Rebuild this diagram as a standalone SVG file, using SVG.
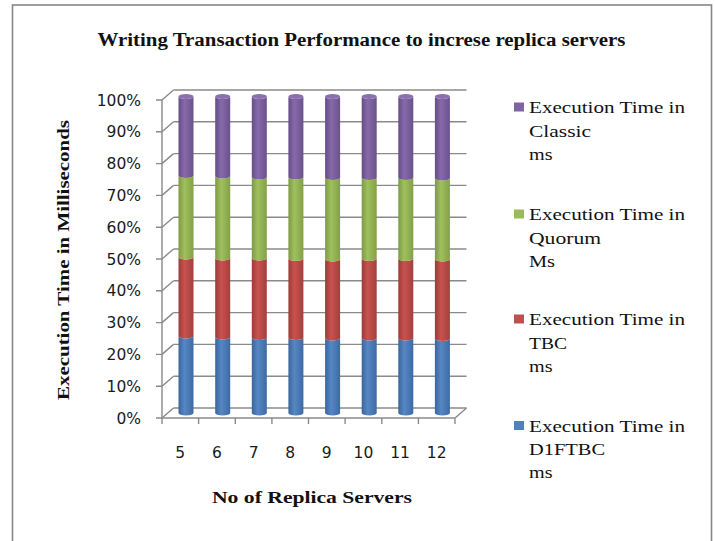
<svg xmlns="http://www.w3.org/2000/svg" width="715" height="541" viewBox="0 0 715 541">
<style>
.grid{stroke:#8a8a8a;stroke-width:1.4;fill:none}
.ylab{font-family:"DejaVu Sans",sans-serif;font-size:15.5px;fill:#1a1a1a;text-anchor:end}
.xlab{font-family:"DejaVu Sans",sans-serif;font-size:15.5px;fill:#1a1a1a;text-anchor:middle}
.ttl{font-family:"Liberation Serif",serif;font-weight:bold;fill:#111}
.leg{font-family:"Liberation Serif",serif;font-size:16px;fill:#111}
</style>
<defs>
<linearGradient id="gB" x1="0" y1="0" x2="1" y2="0"><stop offset="0" stop-color="#3a659c"/><stop offset="0.4" stop-color="#5687c4"/><stop offset="1" stop-color="#3d6aa3"/></linearGradient>
<linearGradient id="gR" x1="0" y1="0" x2="1" y2="0"><stop offset="0" stop-color="#9c3b38"/><stop offset="0.4" stop-color="#c8524f"/><stop offset="1" stop-color="#a2403d"/></linearGradient>
<linearGradient id="gG" x1="0" y1="0" x2="1" y2="0"><stop offset="0" stop-color="#7c9a43"/><stop offset="0.4" stop-color="#a0c05e"/><stop offset="1" stop-color="#82a047"/></linearGradient>
<linearGradient id="gP" x1="0" y1="0" x2="1" y2="0"><stop offset="0" stop-color="#654d85"/><stop offset="0.4" stop-color="#8769ab"/><stop offset="1" stop-color="#6a528b"/></linearGradient>
</defs>
<rect x="12.5" y="5" width="699" height="560" fill="#ffffff" stroke="#878787" stroke-width="1.6"/>
<text class="ttl" x="361.5" y="46" font-size="18" text-anchor="middle" textLength="528" lengthAdjust="spacingAndGlyphs">Writing Transaction Performance to increse replica servers</text>

<g id="axes">
<g class="grid">
<path d="M173.5,90H466.5M173.5,121.8H466.5M173.5,153.6H466.5M173.5,185.4H466.5M173.5,217.2H466.5M173.5,249H466.5M173.5,280.8H466.5M173.5,312.6H466.5M173.5,344.4H466.5M173.5,376.2H466.5M173.5,408H466.5"/>
<path d="M162,100L173.5,90M162,131.8L173.5,121.8M162,163.6L173.5,153.6M162,195.4L173.5,185.4M162,227.2L173.5,217.2M162,259L173.5,249M162,290.8L173.5,280.8M162,322.6L173.5,312.6M162,354.4L173.5,344.4M162,386.2L173.5,376.2M162,418L173.5,408"/>
<path d="M162,100V418M156,100H162M156,131.8H162M156,163.6H162M156,195.4H162M156,227.2H162M156,259H162M156,290.8H162M156,322.6H162M156,354.4H162M156,386.2H162M156,418H162"/>
<path d="M162,418H455L466.5,408M162,418V424M198.6,418V424M235.3,418V424M271.9,418V424M308.5,418V424M345.1,418V424M381.8,418V424M418.4,418V424M455,418V424"/>
</g>
<text class="ylab" x="141" y="105.5">100%</text>
<text class="ylab" x="141" y="137.3">90%</text>
<text class="ylab" x="141" y="169.1">80%</text>
<text class="ylab" x="141" y="200.9">70%</text>
<text class="ylab" x="141" y="232.7">60%</text>
<text class="ylab" x="141" y="264.5">50%</text>
<text class="ylab" x="141" y="296.3">40%</text>
<text class="ylab" x="141" y="328.1">30%</text>
<text class="ylab" x="141" y="359.9">20%</text>
<text class="ylab" x="141" y="391.7">10%</text>
<text class="ylab" x="141" y="423.5">0%</text>
<text class="xlab" x="180.3" y="458">5</text>
<text class="xlab" x="216.9" y="458">6</text>
<text class="xlab" x="253.6" y="458">7</text>
<text class="xlab" x="290.2" y="458">8</text>
<text class="xlab" x="326.8" y="458">9</text>
<text class="xlab" x="363.4" y="458">10</text>
<text class="xlab" x="400.1" y="458">11</text>
<text class="xlab" x="436.7" y="458">12</text>
<text class="ttl" font-size="17" transform="translate(69,260) rotate(-90)" x="0" y="0" text-anchor="middle" textLength="280" lengthAdjust="spacingAndGlyphs">Execution Time in Milliseconds</text>
<text class="ttl" font-size="17" x="312" y="503" text-anchor="middle" textLength="200" lengthAdjust="spacingAndGlyphs">No of Replica Servers</text>
</g>

<g id="bars">
<g id="bar-5" transform="translate(186,0)">
<path fill="url(#gB)" d="M-7.5,336A7.5,2.5 0 0 0 7.5,336L7.5,413A7.5,2.5 0 0 1 -7.5,413Z"/>
<path fill="url(#gR)" d="M-7.5,257A7.5,2.5 0 0 0 7.5,257L7.5,336A7.5,2.5 0 0 1 -7.5,336Z"/>
<path fill="url(#gG)" d="M-7.5,175.5A7.5,2.5 0 0 0 7.5,175.5L7.5,257A7.5,2.5 0 0 1 -7.5,257Z"/>
<path fill="url(#gP)" d="M-7.5,96.5A7.5,2.5 0 0 0 7.5,96.5L7.5,175.5A7.5,2.5 0 0 1 -7.5,175.5Z"/>
<ellipse cx="0" cy="96.5" rx="7.5" ry="2.5" fill="#8a70ad"/>
</g>
<g id="bar-6" transform="translate(222.7,0)">
<path fill="url(#gB)" d="M-7.5,337A7.5,2.5 0 0 0 7.5,337L7.5,413A7.5,2.5 0 0 1 -7.5,413Z"/>
<path fill="url(#gR)" d="M-7.5,258A7.5,2.5 0 0 0 7.5,258L7.5,337A7.5,2.5 0 0 1 -7.5,337Z"/>
<path fill="url(#gG)" d="M-7.5,176A7.5,2.5 0 0 0 7.5,176L7.5,258A7.5,2.5 0 0 1 -7.5,258Z"/>
<path fill="url(#gP)" d="M-7.5,96.5A7.5,2.5 0 0 0 7.5,96.5L7.5,176A7.5,2.5 0 0 1 -7.5,176Z"/>
<ellipse cx="0" cy="96.5" rx="7.5" ry="2.5" fill="#8a70ad"/>
</g>
<g id="bar-7" transform="translate(259.3,0)">
<path fill="url(#gB)" d="M-7.5,337.5A7.5,2.5 0 0 0 7.5,337.5L7.5,413A7.5,2.5 0 0 1 -7.5,413Z"/>
<path fill="url(#gR)" d="M-7.5,258A7.5,2.5 0 0 0 7.5,258L7.5,337.5A7.5,2.5 0 0 1 -7.5,337.5Z"/>
<path fill="url(#gG)" d="M-7.5,177A7.5,2.5 0 0 0 7.5,177L7.5,258A7.5,2.5 0 0 1 -7.5,258Z"/>
<path fill="url(#gP)" d="M-7.5,96.5A7.5,2.5 0 0 0 7.5,96.5L7.5,177A7.5,2.5 0 0 1 -7.5,177Z"/>
<ellipse cx="0" cy="96.5" rx="7.5" ry="2.5" fill="#8a70ad"/>
</g>
<g id="bar-8" transform="translate(295.9,0)">
<path fill="url(#gB)" d="M-7.5,337.5A7.5,2.5 0 0 0 7.5,337.5L7.5,413A7.5,2.5 0 0 1 -7.5,413Z"/>
<path fill="url(#gR)" d="M-7.5,258.5A7.5,2.5 0 0 0 7.5,258.5L7.5,337.5A7.5,2.5 0 0 1 -7.5,337.5Z"/>
<path fill="url(#gG)" d="M-7.5,177A7.5,2.5 0 0 0 7.5,177L7.5,258.5A7.5,2.5 0 0 1 -7.5,258.5Z"/>
<path fill="url(#gP)" d="M-7.5,96.5A7.5,2.5 0 0 0 7.5,96.5L7.5,177A7.5,2.5 0 0 1 -7.5,177Z"/>
<ellipse cx="0" cy="96.5" rx="7.5" ry="2.5" fill="#8a70ad"/>
</g>
<g id="bar-9" transform="translate(332.6,0)">
<path fill="url(#gB)" d="M-7.5,338A7.5,2.5 0 0 0 7.5,338L7.5,413A7.5,2.5 0 0 1 -7.5,413Z"/>
<path fill="url(#gR)" d="M-7.5,259A7.5,2.5 0 0 0 7.5,259L7.5,338A7.5,2.5 0 0 1 -7.5,338Z"/>
<path fill="url(#gG)" d="M-7.5,177.5A7.5,2.5 0 0 0 7.5,177.5L7.5,259A7.5,2.5 0 0 1 -7.5,259Z"/>
<path fill="url(#gP)" d="M-7.5,96.5A7.5,2.5 0 0 0 7.5,96.5L7.5,177.5A7.5,2.5 0 0 1 -7.5,177.5Z"/>
<ellipse cx="0" cy="96.5" rx="7.5" ry="2.5" fill="#8a70ad"/>
</g>
<g id="bar-10" transform="translate(369.2,0)">
<path fill="url(#gB)" d="M-7.5,338A7.5,2.5 0 0 0 7.5,338L7.5,413A7.5,2.5 0 0 1 -7.5,413Z"/>
<path fill="url(#gR)" d="M-7.5,258.5A7.5,2.5 0 0 0 7.5,258.5L7.5,338A7.5,2.5 0 0 1 -7.5,338Z"/>
<path fill="url(#gG)" d="M-7.5,177.5A7.5,2.5 0 0 0 7.5,177.5L7.5,258.5A7.5,2.5 0 0 1 -7.5,258.5Z"/>
<path fill="url(#gP)" d="M-7.5,96.5A7.5,2.5 0 0 0 7.5,96.5L7.5,177.5A7.5,2.5 0 0 1 -7.5,177.5Z"/>
<ellipse cx="0" cy="96.5" rx="7.5" ry="2.5" fill="#8a70ad"/>
</g>
<g id="bar-11" transform="translate(405.8,0)">
<path fill="url(#gB)" d="M-7.5,338A7.5,2.5 0 0 0 7.5,338L7.5,413A7.5,2.5 0 0 1 -7.5,413Z"/>
<path fill="url(#gR)" d="M-7.5,258.5A7.5,2.5 0 0 0 7.5,258.5L7.5,338A7.5,2.5 0 0 1 -7.5,338Z"/>
<path fill="url(#gG)" d="M-7.5,177.5A7.5,2.5 0 0 0 7.5,177.5L7.5,258.5A7.5,2.5 0 0 1 -7.5,258.5Z"/>
<path fill="url(#gP)" d="M-7.5,96.5A7.5,2.5 0 0 0 7.5,96.5L7.5,177.5A7.5,2.5 0 0 1 -7.5,177.5Z"/>
<ellipse cx="0" cy="96.5" rx="7.5" ry="2.5" fill="#8a70ad"/>
</g>
<g id="bar-12" transform="translate(442.4,0)">
<path fill="url(#gB)" d="M-7.5,338.5A7.5,2.5 0 0 0 7.5,338.5L7.5,413A7.5,2.5 0 0 1 -7.5,413Z"/>
<path fill="url(#gR)" d="M-7.5,259A7.5,2.5 0 0 0 7.5,259L7.5,338.5A7.5,2.5 0 0 1 -7.5,338.5Z"/>
<path fill="url(#gG)" d="M-7.5,178A7.5,2.5 0 0 0 7.5,178L7.5,259A7.5,2.5 0 0 1 -7.5,259Z"/>
<path fill="url(#gP)" d="M-7.5,96.5A7.5,2.5 0 0 0 7.5,96.5L7.5,178A7.5,2.5 0 0 1 -7.5,178Z"/>
<ellipse cx="0" cy="96.5" rx="7.5" ry="2.5" fill="#8a70ad"/>
</g>
</g>

<g id="legend">
<g id="leg-classic">
<rect x="514" y="102.5" width="10" height="9" fill="#8064a2"/>
<text class="leg" x="529" y="113" textLength="156" lengthAdjust="spacingAndGlyphs">Execution Time in</text>
<text class="leg" x="529" y="136.5" textLength="62" lengthAdjust="spacingAndGlyphs">Classic</text>
<text class="leg" x="529" y="160" textLength="23.5" lengthAdjust="spacingAndGlyphs">ms</text>
</g>
<g id="leg-quorum">
<rect x="514" y="209.5" width="10" height="9" fill="#9bbb59"/>
<text class="leg" x="529" y="220" textLength="156" lengthAdjust="spacingAndGlyphs">Execution Time in</text>
<text class="leg" x="529" y="243.5" textLength="72" lengthAdjust="spacingAndGlyphs">Quorum</text>
<text class="leg" x="529" y="267" textLength="26" lengthAdjust="spacingAndGlyphs">Ms</text>
</g>
<g id="leg-tbc">
<rect x="514" y="314.5" width="10" height="9" fill="#c0504d"/>
<text class="leg" x="529" y="325" textLength="156" lengthAdjust="spacingAndGlyphs">Execution Time in</text>
<text class="leg" x="529" y="348.5" textLength="38" lengthAdjust="spacingAndGlyphs">TBC</text>
<text class="leg" x="529" y="372" textLength="23.5" lengthAdjust="spacingAndGlyphs">ms</text>
</g>
<g id="leg-d1ftbc">
<rect x="514" y="421" width="10" height="9" fill="#4f81bd"/>
<text class="leg" x="529" y="431.5" textLength="156" lengthAdjust="spacingAndGlyphs">Execution Time in</text>
<text class="leg" x="529" y="455" textLength="76" lengthAdjust="spacingAndGlyphs">D1FTBC</text>
<text class="leg" x="529" y="478" textLength="23.5" lengthAdjust="spacingAndGlyphs">ms</text>
</g>
</g>
</svg>
